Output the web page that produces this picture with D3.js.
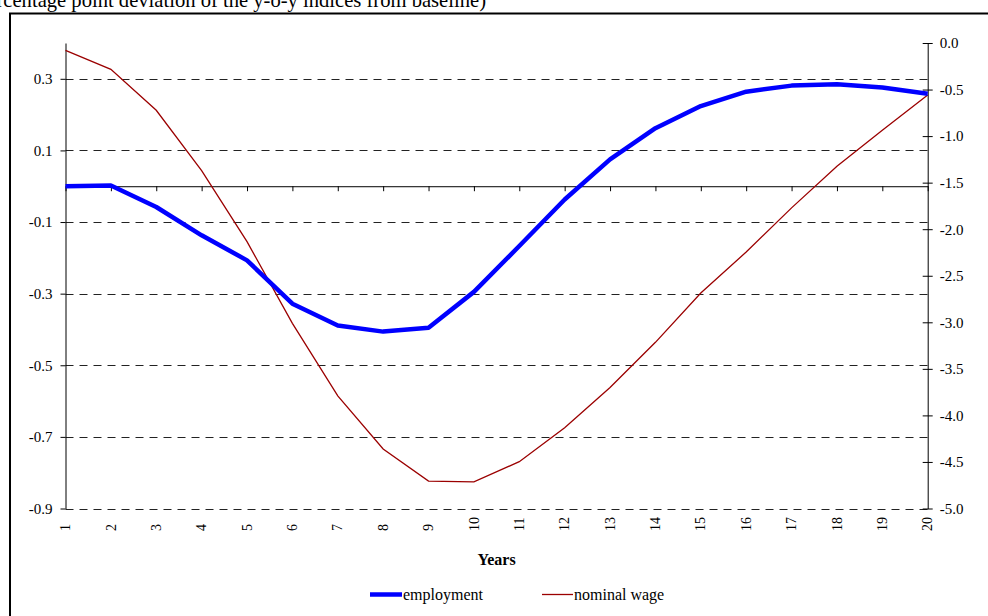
<!DOCTYPE html>
<html>
<head>
<meta charset="utf-8">
<script src="https://cdn.jsdelivr.net/npm/d3@7"></script>
<style>
  html, body { margin: 0; padding: 0; background: #fff; overflow: hidden; }
  svg { display: block; font-family: "Liberation Serif", "Times New Roman", serif; }
</style>
</head>
<body>
<svg id="chart" width="988" height="616"></svg>
<script>
// ---- data ----
const years = [1,2,3,4,5,6,7,8,9,10,11,12,13,14,15,16,17,18,19,20];
const employment = [0.000, 0.002, -0.058, -0.137, -0.207, -0.328, -0.389, -0.406, -0.395, -0.295,
                    -0.167, -0.037, 0.075, 0.162, 0.224, 0.264, 0.281, 0.285, 0.276, 0.258];
const nominalWage = [-0.08, -0.283, -0.723, -1.372, -2.134, -3.011, -3.79, -4.36, -4.705, -4.715,
                     -4.497, -4.132, -3.70, -3.215, -2.685, -2.245, -1.771, -1.325, -0.937, -0.559];
const leftTicks = [-0.9, -0.7, -0.5, -0.3, -0.1, 0.1, 0.3];
const rightTicks = [-5.0, -4.5, -4.0, -3.5, -3.0, -2.5, -2.0, -1.5, -1.0, -0.5, 0.0];
const seriesNames = ["employment", "nominal wage"];
const titleText = "(Percentage point deviation of the y-o-y indices from baseline)";
const xTitle = "Years";

// ---- layout ----
const plot = { left: 65.5, right: 927.7, top: 43, bottom: 508.5 };
const svg = d3.select("#chart");
const loc = d3.formatLocale({decimal: ".", thousands: ",", grouping: [3], currency: ["", ""], minus: "-"});
const fmt = loc.format(".1f");

const x = d3.scalePoint().domain(years).range([plot.left, plot.right]);
const yL = d3.scaleLinear().domain([-0.9, 0.4]).range([plot.bottom, plot.top]);
const yR = d3.scaleLinear().domain([-5, 0]).range([plot.bottom, plot.top]);

// title (clipped at top-left)
svg.append("text")
  .attr("x", 486).attr("y", 6.5)
  .attr("text-anchor", "end")
  .attr("font-size", 20.6)
  .attr("fill", "#000")
  .text(titleText);

// outer frame (only left & top visible)
svg.append("rect")
  .attr("x", 10).attr("y", 13.5).attr("width", 1100).attr("height", 700)
  .attr("fill", "none").attr("stroke", "#000").attr("stroke-width", 2);

// gridlines
svg.append("g").selectAll("line").data(leftTicks).join("line")
  .attr("x1", plot.left).attr("x2", plot.right)
  .attr("y1", d => Math.round(yL(d)) + 0.5).attr("y2", d => Math.round(yL(d)) + 0.5)
  .attr("stroke", "#222").attr("stroke-width", 1).attr("stroke-dasharray", "8,6");

// left axis
const gL = svg.append("g").attr("transform", `translate(${plot.left},0)`)
  .call(d3.axisLeft(yL).tickValues(leftTicks).tickFormat(fmt).tickSize(5).tickSizeOuter(0).tickPadding(8));
gL.select(".domain").attr("stroke", "#000");
gL.selectAll(".tick line").attr("stroke", "#000");
gL.selectAll(".tick text").attr("font-size", 15).attr("fill", "#000")
  .attr("font-family", "Liberation Serif, Times New Roman, serif");

// right axis (cross ticks)
const gR = svg.append("g").attr("transform", `translate(${plot.right},0)`)
  .call(d3.axisRight(yR).tickValues(rightTicks).tickFormat(fmt).tickSize(0).tickSizeOuter(0).tickPadding(12));
gR.select(".domain").attr("stroke", "#000");
gR.selectAll(".tick line").attr("x1", -5).attr("x2", 5).attr("stroke", "#000");
gR.selectAll(".tick text").attr("font-size", 15).attr("fill", "#000")
  .attr("font-family", "Liberation Serif, Times New Roman, serif");

// category axis along zero
const y0 = yL(0);
const gX = svg.append("g").attr("transform", `translate(0,${y0})`)
  .call(d3.axisBottom(x).tickSize(5).tickSizeOuter(0).tickFormat(""));
gX.select(".domain").attr("stroke", "#000");
gX.selectAll(".tick line").attr("stroke", "#000");

// category labels at bottom, rotated
svg.append("g").selectAll("text").data(years).join("text")
  .attr("transform", d => `translate(${x(d)},531) rotate(-90)`)
  .attr("dy", "0.33em")
  .attr("text-anchor", "start")
  .attr("font-size", 14)
  .attr("fill", "#000")
  .text(d => d);

// x title
svg.append("text")
  .attr("x", (plot.left + plot.right) / 2).attr("y", 565)
  .attr("text-anchor", "middle")
  .attr("font-size", 16).attr("font-weight", "bold")
  .attr("fill", "#000")
  .text(xTitle);

// lines
const lineL = d3.line().x((d, i) => x(years[i])).y(d => yL(d));
const lineR = d3.line().x((d, i) => x(years[i])).y(d => yR(d));
svg.append("path").datum(nominalWage)
  .attr("d", lineR).attr("fill", "none")
  .attr("stroke", "#9b0000").attr("stroke-width", 1.3);
svg.append("path").datum(employment)
  .attr("d", lineL).attr("fill", "none")
  .attr("stroke", "#0000ff").attr("stroke-width", 4.5).attr("stroke-linejoin", "round");

// legend
const legend = [
  { name: seriesNames[0], color: "#0000ff", w: 4.5, x1: 370, x2: 402 },
  { name: seriesNames[1], color: "#9b0000", w: 1.3, x1: 542, x2: 573 }
];
const lg = svg.append("g");
legend.forEach(l => {
  lg.append("line").attr("x1", l.x1).attr("x2", l.x2).attr("y1", 594.5).attr("y2", 594.5)
    .attr("stroke", l.color).attr("stroke-width", l.w);
  lg.append("text").attr("x", l.x2 + 1).attr("y", 599.5)
    .attr("font-size", 16).attr("fill", "#000").text(l.name);
});
</script>
</body>
</html>
